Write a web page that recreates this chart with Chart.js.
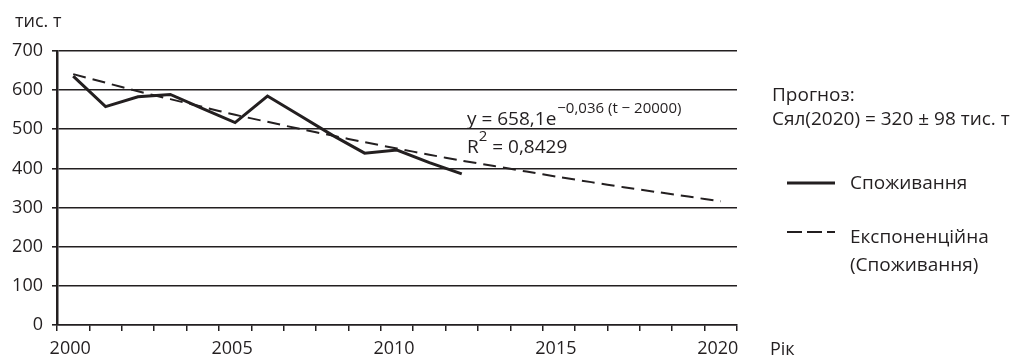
<!DOCTYPE html>
<html><head><meta charset="utf-8">
<script src="https://cdn.jsdelivr.net/npm/chart.js@4/dist/chart.umd.min.js"></script>
<style>html,body{margin:0;padding:0;background:#fff}#w{width:1017px;height:358px}</style>
</head><body><div id="w"><canvas id="c"></canvas></div>
<script>
const years = ['2000','2001','2002','2003','2004','2005','2006','2007','2008','2009','2010','2011','2012','2013','2014','2015','2016','2017','2018','2019','2020'];
const consumption = [636, 558, 583, 589, 553, 517, 585, 535, 485, 439, 447, 415, 386, null, null, null, null, null, null, null, null];
const trend = [641, 619, 597, 577, 557, 537, 519, 501, 484, 467, 451, 435, 420, 406, 392, 378, 365, 352, 340, 328, 316];
const yTicks = [0, 100, 200, 300, 400, 500, 600, 700];
const seriesNames = ['Споживання', 'Експоненційна', '(Споживання)'];
const unitLabel = 'тис. т';
const axisLabel = 'Рік';
const forecast = ['Прогноз:', 'Сял(2020) = 320 ± 98 тис. т'];

const INK = '#231f20';
const FONT = '"Open Sans", "Noto Sans", sans-serif';

const textPlugin = {
  id: 'texts',
  afterDraw(chart) {
    const ctx = chart.ctx;
    ctx.save();
    ctx.fillStyle = INK;
    ctx.textBaseline = 'alphabetic';
    ctx.textAlign = 'left';
    ctx.font = '18px ' + FONT;
    ctx.fillText(unitLabel, 15, 27);
    ctx.fillText(axisLabel, 770, 355);
    ctx.font = '19px ' + FONT;
    ctx.fillText(forecast[0], 772, 101);
    ctx.fillText(forecast[1], 772, 125);
    // equation
    let x = 467;
    const base = 'y = 658,1e';
    ctx.fillText(base, x, 125);
    x += ctx.measureText(base).width;
    ctx.font = '15px ' + FONT;
    ctx.fillText('−0,036 (t − 20000)', x + 1, 113);
    ctx.font = '19px ' + FONT;
    x = 467;
    ctx.fillText('R', x, 153);
    x += ctx.measureText('R').width;
    ctx.font = '15px ' + FONT;
    ctx.fillText('2', x, 141);
    x += ctx.measureText('2').width;
    ctx.font = '19px ' + FONT;
    ctx.fillText(' = 0,8429', x, 153);
    // legend
    const ds = chart.data.datasets;
    ctx.strokeStyle = ds[0].borderColor;
    ctx.lineWidth = ds[0].borderWidth;
    ctx.beginPath(); ctx.moveTo(787, 183); ctx.lineTo(835, 183); ctx.stroke();
    ctx.fillText(seriesNames[0], 850, 189);
    ctx.lineWidth = ds[1].borderWidth;
    ctx.setLineDash([15, 5]);
    ctx.beginPath(); ctx.moveTo(787, 232); ctx.lineTo(835, 232); ctx.stroke();
    ctx.setLineDash([]);
    ctx.fillText(seriesNames[1], 850, 243);
    ctx.fillText(seriesNames[2], 850, 271);
    ctx.restore();
  }
};

new Chart(document.getElementById('c'), {
  type: 'line',
  data: {
    labels: years,
    datasets: [
      { label: seriesNames[0], data: consumption, borderColor: INK, borderWidth: 3, pointRadius: 0, tension: 0, fill: false, spanGaps: false },
      { label: seriesNames[1] + ' ' + seriesNames[2], data: trend, borderColor: INK, borderWidth: 2, borderDash: [13, 7], pointRadius: 0, tension: 0.3, fill: false }
    ]
  },
  options: {
    responsive: true,
    maintainAspectRatio: false,
    animation: false,
    events: [],
    layout: { padding: { left: 0, top: 51, right: 280, bottom: 0 } },
    plugins: { legend: { display: false }, tooltip: { enabled: false } },
    scales: {
      x: {
        type: 'category',
        offset: true,
        grid: { offset: true, drawOnChartArea: false, drawTicks: true, tickLength: 6, color: INK, lineWidth: 1.5 },
        border: { display: true, color: INK, width: 1.5 },
        ticks: {
          autoSkip: false, maxRotation: 0, minRotation: 0, padding: 7, labelOffset: -3,
          color: INK, font: { family: FONT, size: 18 },
          callback: function(v, i) { const l = this.getLabelForValue(v); return (Number(l) % 5 === 0) ? l : ''; }
        },
        afterFit: s => { s.height = 33; }
      },
      y: {
        min: 0, max: 700,
        afterBuildTicks: s => { s.ticks = yTicks.map(v => ({ value: v })); },
        grid: { color: INK, lineWidth: 1.6, drawTicks: true, tickLength: 5 },
        border: { display: true, color: INK, width: 2.5 },
        ticks: { color: INK, padding: 9, font: { family: FONT, size: 18 } },
        afterFit: s => { s.width = 57; }
      }
    }
  },
  plugins: [textPlugin]
});
</script>
</body></html>
